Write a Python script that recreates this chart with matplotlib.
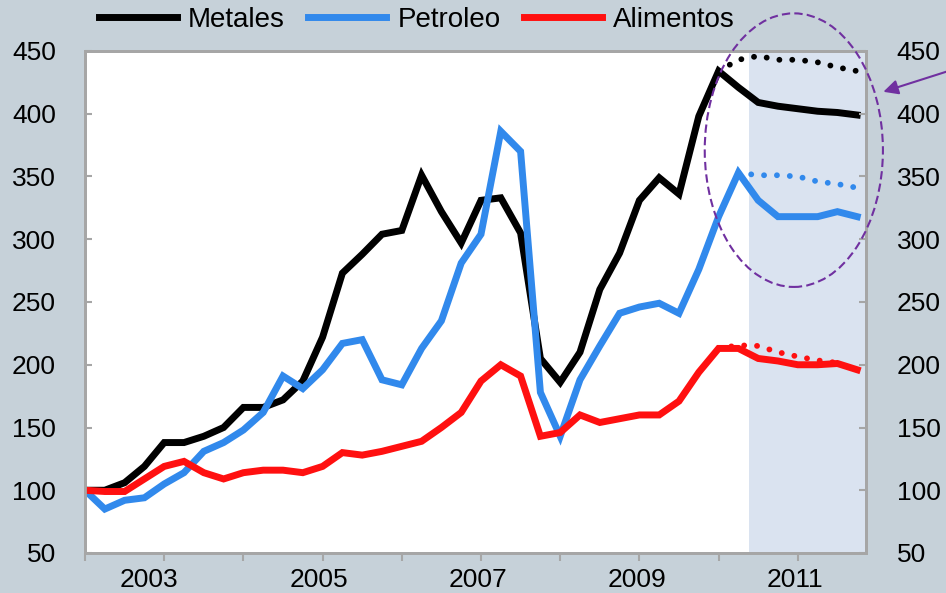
import matplotlib
matplotlib.use("Agg")
import matplotlib.pyplot as plt
from matplotlib.patches import Ellipse
import numpy as np

plt.rcParams['font.family'] = ['Liberation Sans', 'DejaVu Sans']

# Quarterly data, 2002Q1 .. 2011Q4 (index, 2002 = 100)
quarters = 2002 + np.arange(40) / 4.0

metales = [100, 100, 106, 119, 138, 138, 143, 150, 166, 166,
           172, 187, 222, 273, 288, 304, 307, 351, 322, 297,
           331, 333, 305, 205, 186, 210, 260, 289, 331, 349,
           336, 398, 434, 421, 409, 406, 404, 402, 401, 399]
petroleo = [100, 85, 92, 94, 105, 114, 131, 138, 148, 162,
            191, 181, 196, 217, 220, 188, 184, 213, 235, 281,
            304, 386, 370, 178, 143, 188, 215, 241, 246, 249,
            241, 276, 318, 353, 331, 318, 318, 318, 322, 318]
alimentos = [100, 99, 99, 109, 119, 123, 114, 109, 114, 116,
             116, 114, 119, 130, 128, 131, 135, 139, 150, 162,
             187, 200, 191, 143, 146, 160, 154, 157, 160, 160,
             171, 194, 213, 213, 205, 203, 200, 200, 201, 196]

# Earlier projections (dotted)
metales_proj_x = quarters[32:40]
metales_proj = [434, 443, 446, 443, 443, 441, 437, 434]
petroleo_proj_x = quarters[33:40]
petroleo_proj = [353, 351, 351, 350, 346, 344, 341]
alimentos_proj_x = quarters[32:39]
alimentos_proj = [213, 215.5, 215, 210, 206.5, 203.5, 201.5]

series_names = ['Metales', 'Petroleo', 'Alimentos']
year_labels = ['2003', '2005', '2007', '2009', '2011']
year_label_pos = [2002.81, 2004.96, 2006.96, 2008.97, 2010.97]
yticks = [50, 100, 150, 200, 250, 300, 350, 400, 450]

c_black = '#000000'
c_blue = '#3189EC'
c_red = '#FF1010'
c_purple = '#7030A0'
bg = '#C6D1D9'
shade = '#DAE3F0'
spine_c = '#A6A6A6'

W, H = 946, 593
fig = plt.figure(figsize=(W / 100, H / 100), dpi=100, facecolor=bg)
ax = fig.add_axes([85 / W, 1 - 553 / H, (866 - 85) / W, (553 - 51) / H])
ax.set_facecolor('white')

x0, x1 = 2002.0, 2002 + (866 - 85) / 79.2
ax.set_xlim(x0, x1)
ax.set_ylim(50, 450)

ax.axvspan(2002 + (749 - 85) / 79.2, x1, color=shade, zorder=0, lw=0)

lw = 5.0
ax.plot(quarters, metales, color=c_black, lw=lw, solid_joinstyle='miter', label=series_names[0], zorder=3)
ax.plot(quarters, petroleo, color=c_blue, lw=lw, solid_joinstyle='miter', label=series_names[1], zorder=3)
ax.plot(quarters, alimentos, color=c_red, lw=lw, solid_joinstyle='miter', label=series_names[2], zorder=3)

dot = (0, (0.01, 2.2))
for xs, ys, c in [(metales_proj_x, metales_proj, c_black),
                  (petroleo_proj_x, petroleo_proj, c_blue),
                  (alimentos_proj_x, alimentos_proj, c_red)]:
    ax.plot(xs, ys, color=c, lw=4.2, linestyle=dot, dash_capstyle='round', zorder=3)

for s in ax.spines.values():
    s.set_color(spine_c)
    s.set_linewidth(2)

ax.set_yticks(yticks)
ax.tick_params(axis='y', direction='in', length=5, width=1.5, color=spine_c,
               labelsize=19, pad=21)
ax.set_xticks(np.arange(2002, 2012))
ax.set_xticklabels([])
ax.set_xticks(year_label_pos, minor=True)
ax.set_xticklabels(year_labels, minor=True)
ax.tick_params(axis='x', which='major', direction='out', length=6, width=1.5, color=spine_c)
ax.tick_params(axis='x', which='minor', length=0, labelsize=19, pad=11)

ax2 = ax.twinx()
ax2.set_ylim(50, 450)
ax2.set_yticks(yticks)
ax2.tick_params(axis='y', direction='in', length=5, width=1.5, color=spine_c,
                labelsize=19, pad=22)
for s in ax2.spines.values():
    s.set_color(spine_c)
    s.set_linewidth(2)

# Annotation ellipse and arrow
ell = Ellipse((2010.95, 371), width=2.25, height=218, fill=False,
              edgecolor=c_purple, lw=1.5, linestyle=(0, (4, 2)),
              clip_on=False, zorder=5)
ax2.add_patch(ell)
ax2.annotate('', xy=(2012.08, 417.5), xytext=(2012.9, 434),
             arrowprops=dict(arrowstyle='-|>', color=c_purple, lw=1.5,
                             mutation_scale=22, shrinkA=0, shrinkB=0),
             annotation_clip=False, zorder=5)

fig.legend(loc='center left', bbox_to_anchor=(99 / W, 1 - 20 / H), ncol=3,
           frameon=False, fontsize=20, handlelength=2.8, handletextpad=0.4,
           columnspacing=0.85, borderpad=0, borderaxespad=0)

fig.savefig('out.png', dpi=100, facecolor=bg)
